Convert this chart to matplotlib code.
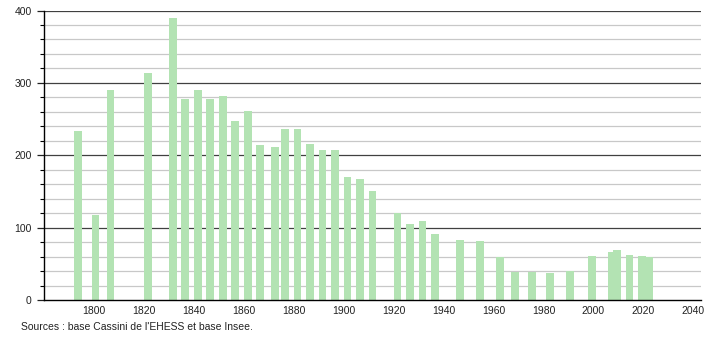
import matplotlib
matplotlib.use("Agg")
from matplotlib import pyplot as plt
from matplotlib.ticker import MultipleLocator

# census years and population
years = [1793, 1800, 1806, 1821, 1831, 1836, 1841, 1846, 1851, 1856,
         1861, 1866, 1872, 1876, 1881, 1886, 1891, 1896, 1901, 1906,
         1911, 1921, 1926, 1931, 1936, 1946, 1954, 1962, 1968, 1975,
         1982, 1990, 1999, 2007, 2009, 2014, 2019, 2022]
population = [233, 117, 290, 313, 389, 278, 290, 278, 282, 247,
              261, 214, 211, 236, 236, 215, 207, 207, 170, 167,
              150, 120, 105, 109, 91, 83, 81, 59, 39, 39,
              38, 40, 61, 67, 69, 62, 61, 59]

source_text = "Sources : base Cassini de l'EHESS et base Insee."

plt.rcParams['font.family'] = ['Liberation Sans', 'DejaVu Sans']

fig = plt.figure(figsize=(7.1, 3.4), dpi=100)
ax = fig.add_axes([0.0624, 0.1176, 0.9245, 0.8515])

# grid lines
for v in range(20, 400, 20):
    if v % 100:
        ax.axhline(v, color='#c8c8c8', lw=0.9, zorder=0)
for v in (100, 200, 300, 400):
    ax.axhline(v, color='#404040', lw=0.9, zorder=0)

ax.bar([y + 0.5 for y in years], population, width=3.1, color='#b3e3b3', zorder=2)

ax.set_xlim(1780, 2043)
ax.set_ylim(0, 400)
ax.xaxis.set_major_locator(MultipleLocator(20))
ax.set_xticks(range(1800, 2041, 20))
ax.yaxis.set_major_locator(MultipleLocator(100))
ax.yaxis.set_minor_locator(MultipleLocator(20))

for s in ('top', 'right'):
    ax.spines[s].set_visible(False)
ax.spines['left'].set_linewidth(1.0)
ax.spines['bottom'].set_linewidth(1.0)

ax.tick_params(axis='x', length=0, pad=4, labelsize=7.5, colors='#222222')
ax.tick_params(axis='y', which='major', length=5, width=0.9, pad=4, labelsize=7.5, colors='#222222')
ax.tick_params(axis='y', which='minor', length=3, width=0.8)

fig.text(0.029, 0.03, source_text, fontsize=7.5, color='#222222')

fig.savefig("out.png", dpi=100)
